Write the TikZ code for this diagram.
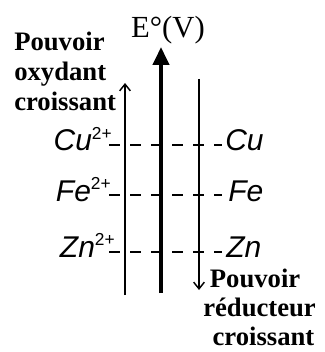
\documentclass[tikz,border=0pt]{standalone}
\usepackage{fontspec}
\setmainfont{Liberation Serif}
\setsansfont{Liberation Sans}
\usepackage{tikz}
\usetikzlibrary{arrows.meta, positioning}
\newcommand{\ionplus}{\raisebox{8.5pt}{\fontsize{13}{13}\selectfont\upshape 2+}}

\begin{document}
\begin{tikzpicture}[x=0.75pt, y=-0.75pt,
  axis/.style={line width=3pt, -{Triangle[length=13.5pt, width=12pt]}},
  thinaxis/.style={line width=1.1pt, -{Straight Barb[length=5pt, width=8pt]}},
  level/.style={line width=1.1pt, dash pattern=on 8.25pt off 7.5pt},
  species/.style={font=\sffamily\itshape\fontsize{22.5}{27}\selectfont, inner sep=0pt},
  power/.style={font=\bfseries\fontsize{20}{22.5}\selectfont, inner sep=0pt}]
\useasboundingbox (0,0) rectangle (324,352);

% axes
\coordinate (ebot) at (161,293);
\coordinate (etop) at (161,47);
\coordinate (oxbot) at (125,295);
\coordinate (oxtop) at (125,83);
\coordinate (redtop) at (199,79);
\coordinate (redbot) at (199,290);
\draw[axis] (ebot) -- (etop);
\draw[thinaxis] (oxbot) -- (oxtop);
\draw[thinaxis] (redtop) -- (redbot);
\node[font=\fontsize{23}{27}\selectfont, inner sep=0pt, anchor=base] (eunit) at (168,38) {E°(V)};

% couples
\coordinate (cuL) at (109,145);
\coordinate (cuR) at (222,145);
\coordinate (feL) at (109,195);
\coordinate (feR) at (222,195);
\coordinate (znL) at (109,252);
\coordinate (znR) at (222,252);
\draw[level] (cuL) -- (cuR);
\draw[level] (feL) -- (feR);
\draw[level] (znL) -- (znR);
\node[species, anchor=base east] (cuox) at (112,151) {Cu\ionplus};
\node[species, anchor=base west] (cured) at (225,151) {Cu};
\node[species, anchor=base east] (feox) at (111,201) {Fe\ionplus};
\node[species, anchor=base west] (fered) at (228,201) {Fe};
\node[species, anchor=base east] (znox) at (115,257) {Zn\ionplus};
\node[species, anchor=base west] (znred) at (226,257) {Zn};

% labels
\node[power, align=left, anchor=base west] (oxpower) at (14,111)
  {Pouvoir\\oxydant\\croissant};
\node[power, align=left, anchor=base west, font=\bfseries\fontsize{20}{21.4}\selectfont]
  (redpower) at (203,345)
  {\hspace{5pt}Pouvoir\\réducteur\\\hspace{7pt}croissant};
\end{tikzpicture}
\end{document}
